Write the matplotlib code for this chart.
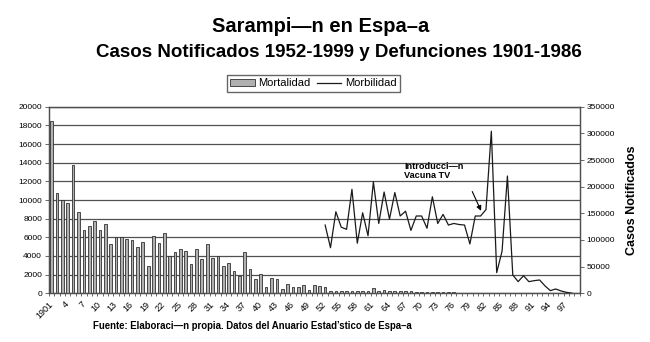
import numpy as np
import matplotlib.pyplot as plt
from matplotlib.patches import Patch
from matplotlib.lines import Line2D

# Fuente tipo Arial
plt.rcParams['font.family'] = ['Liberation Sans', 'DejaVu Sans']

# Defunciones por sarampión 1901-1986 (eje izquierdo)
anios_mort = list(range(1901, 1987))
mortalidad = [
    18500, 10700, 10000, 9700, 13800, 8700, 6800, 7200, 7700, 6800,   # 1901-1910
    7400, 5300, 6000, 6000, 5800, 5700, 5000, 5500, 2900, 6100,       # 1911-1920
    5400, 6500, 4000, 4400, 4800, 4500, 3100, 4800, 3700, 5300,       # 1921-1930
    3800, 4000, 2900, 3300, 2400, 1900, 4400, 2600, 1500, 2050,       # 1931-1940
    710, 1600, 1500, 460, 1000, 680, 710, 880, 350, 860,              # 1941-1950
    750, 710, 250, 260, 270, 250, 280, 260, 270, 290,                 # 1951-1960
    570, 300, 330, 260, 280, 230, 220, 200, 180, 170,                 # 1961-1970
    160, 150, 140, 150, 130, 110, 60, 40, 30, 60,                     # 1971-1980
    20, 20, 20, 30, 10, 10,                                           # 1981-1986
]

# Casos notificados 1952-1998 (eje derecho)
anios_morb = list(range(1952, 1999))
morbilidad = [
    128000, 85500, 153000, 124000, 120000, 195000, 94000, 151000,     # 1952-1959
    108000, 209000, 131000, 190000, 139000, 189000, 145000, 154000,   # 1960-1967
    118000, 145000, 145000, 122000, 181000, 131000, 148000, 128000,   # 1968-1975
    131000, 129000, 128000, 92500, 145000, 145000, 157000, 304000,    # 1976-1983
    38750, 79000, 220000, 34400, 21900, 33000, 21900, 23700,          # 1984-1991
    25000, 14000, 5000, 8100, 4400, 1800, 300,                        # 1992-1998
]

# Etiquetas del eje X: una cada tres años
anios_etiqueta = list(range(1901, 1998, 3))
etiquetas = ['1901'] + [str(a % 100) for a in anios_etiqueta[1:]]

gris = '#505050'

fig = plt.figure(figsize=(6.5, 3.42), dpi=100)
ax = fig.add_axes([0.0754, 0.1424, 0.8166, 0.5456])

# Barras de mortalidad
ax.bar(anios_mort, mortalidad, width=0.5, color='#b0b0b0',
       edgecolor='#303030', linewidth=0.6, zorder=3)

ax.set_xlim(1900.5, 1999.5)
ax.set_ylim(0, 20000)
ax.set_yticks(range(0, 20001, 2000))
ax.yaxis.grid(True, color=gris, linewidth=0.9, zorder=0)
ax.set_axisbelow(True)

ax.set_xticks(anios_etiqueta)
ax.set_xticklabels(etiquetas, rotation=45, ha='right', va='center',
                   rotation_mode='anchor', fontsize=6.5)
ax.set_xticks(np.arange(1900.5, 2000, 1), minor=True)
ax.tick_params(axis='x', which='major', length=0, pad=7)
ax.tick_params(axis='x', which='minor', length=2.5, width=0.6, color=gris)
ax.tick_params(axis='y', labelsize=6, length=3, width=0.6, color=gris, pad=2)

for s in ax.spines.values():
    s.set_color(gris)
    s.set_linewidth(0.9)

# Línea de morbilidad en el eje secundario
ax2 = ax.twinx()
ax2.plot(anios_morb, morbilidad, color='#1a1a1a', linewidth=0.9, zorder=4)
ax2.set_ylim(0, 350000)
ax2.set_yticks(range(0, 350001, 50000))
ax2.tick_params(axis='y', labelsize=6, length=3, width=0.6, color=gris, pad=2)
for s in ax2.spines.values():
    s.set_color(gris)
    s.set_linewidth(0.9)
ax2.set_ylabel('Casos Notificados', fontsize=9, fontweight='bold', labelpad=8)

# Nota de la introducción de la vacuna
ax2.text(1966.8, 247000, 'Introducci\u2014n\nVacuna TV', fontsize=6.6,
         fontweight='bold', va='top', ha='left', linespacing=1.05)
ax2.annotate('', xy=(1981.3, 150000), xytext=(-8, 17.5), textcoords='offset points',
             arrowprops=dict(arrowstyle='-|>', color='black', lw=0.8,
                             mutation_scale=7))

# Títulos
fig.text(0.494, 0.906, 'Sarampi\u2014n en Espa\u2013a', ha='center', va='baseline',
         fontsize=14.5, fontweight='bold')
fig.text(0.522, 0.833, 'Casos Notificados 1952-1999 y Defunciones 1901-1986',
         ha='center', va='baseline', fontsize=13.5, fontweight='bold')

# Leyenda
handles = [Patch(facecolor='#b0b0b0', edgecolor='#303030', linewidth=0.6),
           Line2D([0], [0], color='#1a1a1a', linewidth=0.9)]
fig.legend(handles, ['Mortalidad', 'Morbilidad'], loc='center',
           bbox_to_anchor=(0.482, 0.756), ncol=2, fontsize=8, frameon=True,
           fancybox=False, edgecolor='#404040', borderpad=0.3,
           handlelength=2.2, handleheight=0.6, handletextpad=0.3,
           columnspacing=0.6)

# Fuente de los datos
fig.text(0.389, 0.038, 'Fuente: Elaboraci\u2014n propia. Datos del Anuario Estad\u2019stico de Espa\u2013a',
         ha='center', va='baseline', fontsize=6.9, fontweight='bold')

fig.savefig('out.png', dpi=100)
